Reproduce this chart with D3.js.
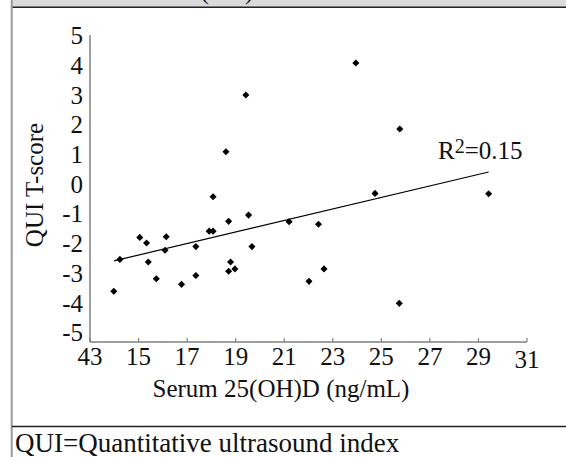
<!DOCTYPE html>
<html lang="en">
<head>
<meta charset="UTF-8">
<title>QUI T-score vs Serum 25(OH)D</title>
<script src="https://d3js.org/d3.v7.min.js"></script>
<style>
  body { margin: 0; background: #fff; }
  text { font-family: "Liberation Serif", serif; fill: #111; }
</style>
</head>
<body>
<svg width="566" height="457"></svg>
<script>
    // serum 25(OH)D (ng/mL) per subject
    var vitD = [19.42, 18.60, 18.07, 19.53, 18.71, 21.20, 22.41, 15.05, 16.14, 15.33,
                17.91, 18.07, 14.23, 16.09, 17.36, 19.67, 15.40, 18.79, 18.71, 18.97,
                22.64, 15.73, 17.36, 16.77, 22.02, 13.98, 23.95, 25.76, 24.74, 29.42, 25.74];
    // QUI T-score per subject
    var tScore = [3.01, 1.10, -0.41, -1.03, -1.24, -1.25, -1.34, -1.78, -1.76, -1.97,
                  -1.57, -1.57, -2.52, -2.21, -2.09, -2.09, -2.61, -2.61, -2.92, -2.84,
                  -2.84, -3.17, -3.06, -3.36, -3.26, -3.59, 4.09, 1.87, -0.30, -0.31, -4.00];
    // linear trend end points
    var trendX = [13.99, 29.42];
    var trendY = [-2.57, 0.42];
    var xTicks = [13, 15, 17, 19, 21, 23, 25, 27, 29, 31];
    var xTickLabels = ["43", "15", "17", "19", "21", "23", "25", "27", "29", "31"];
    var yTicks = [5, 4, 3, 2, 1, 0, -1, -2, -3, -4, -5];

    var svg = d3.select("svg");

    // frame of the figure panel
    svg.append("rect").attr("x", 12).attr("y", 0).attr("width", 554).attr("height", 7)
        .attr("fill", "#dadada");
    svg.append("text").attr("x", 104).attr("y", -1.5).attr("font-size", 25)
        .text("Serum 25(OH)D");
    svg.append("line").attr("x1", 12).attr("x2", 566).attr("y1", 7.2).attr("y2", 7.2)
        .attr("stroke", "#222").attr("stroke-width", 1.5);
    svg.append("line").attr("x1", 11.7).attr("x2", 11.7).attr("y1", 0).attr("y2", 457)
        .attr("stroke", "#9a9a9a").attr("stroke-width", 2);
    svg.append("line").attr("x1", 12).attr("x2", 566).attr("y1", 426.5).attr("y2", 426.5)
        .attr("stroke", "#222").attr("stroke-width", 1.5);

    var x = d3.scaleLinear().domain([13, 31]).range([90, 527]);
    var y = d3.scaleLinear().domain([-5.3, 5.03]).range([342, 35]);

    // axes
    svg.append("line").attr("x1", 90).attr("x2", 90).attr("y1", 35).attr("y2", 342)
        .attr("stroke", "#808080").attr("stroke-width", 1.5);
    svg.append("line").attr("x1", 90).attr("x2", 527).attr("y1", 342).attr("y2", 342)
        .attr("stroke", "#808080").attr("stroke-width", 1.5);

    svg.append("g").selectAll("line")
        .data(xTicks)
        .enter().append("line")
        .attr("x1", d => x(d)).attr("x2", d => x(d))
        .attr("y1", 342).attr("y2", 338)
        .attr("stroke", "#808080").attr("stroke-width", 1.2);

    svg.append("g").selectAll("text")
        .data(xTicks)
        .enter().append("text")
        .attr("x", d => x(d))
        .attr("y", (d, i) => i === xTicks.length - 1 ? 368 : 365)
        .attr("text-anchor", "middle")
        .attr("font-size", 25)
        .text((d, i) => xTickLabels[i]);

    svg.append("g").selectAll("text")
        .data(yTicks)
        .enter().append("text")
        .attr("x", 83)
        .attr("y", d => y(d))
        .attr("dy", "0.33em")
        .attr("text-anchor", "end")
        .attr("font-size", 25)
        .text(d => d);

    svg.append("text")
        .attr("transform", "translate(43,185) rotate(-90)")
        .attr("text-anchor", "middle")
        .attr("font-size", 25)
        .text("QUI T-score");

    svg.append("text")
        .attr("x", 281).attr("y", 397)
        .attr("text-anchor", "middle")
        .attr("font-size", 25)
        .text("Serum 25(OH)D (ng/mL)");

    svg.append("text")
        .attr("x", 15).attr("y", 452)
        .attr("font-size", 27)
        .text("QUI=Quantitative ultrasound index");

    // trend line
    svg.append("line")
        .attr("x1", x(trendX[0])).attr("y1", y(trendY[0]))
        .attr("x2", x(trendX[1])).attr("y2", y(trendY[1]))
        .attr("stroke", "#000").attr("stroke-width", 1.2);

    var r2 = svg.append("text").attr("x", 438).attr("y", 159).attr("font-size", 25);
    r2.append("tspan").text("R");
    r2.append("tspan").attr("font-size", 20).attr("dy", -6).text("2");
    r2.append("tspan").attr("dy", 6).text("=0.15");

    // points
    var pts = vitD.map((v, i) => ({x: v, y: tScore[i]}));
    svg.append("g").selectAll("path")
        .data(pts)
        .enter().append("path")
        .attr("d", d3.symbol().type(d3.symbolSquare).size(25))
        .attr("transform", d => "translate(" + x(d.x) + "," + y(d.y) + ") rotate(45)")
        .attr("fill", "#000");
</script>
</body>
</html>
